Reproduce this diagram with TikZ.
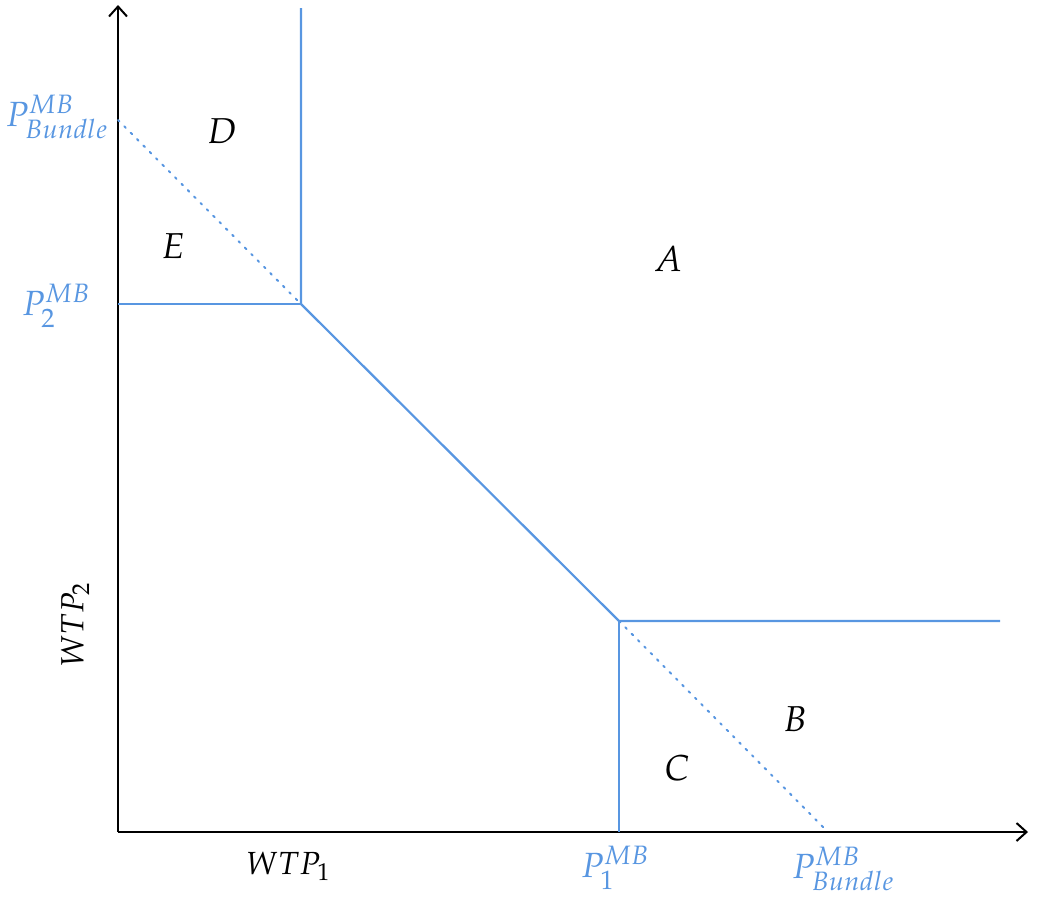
\documentclass[tikz,border=0pt]{standalone}
\usepackage{mathpazo}
\usetikzlibrary{arrows.meta}
\definecolor{mbblue}{RGB}{88,150,225}
\tikzset{
  axis/.style={line width=2pt, black, -{Straight Barb[length=10pt,width=18pt,line width=2pt]}},
  border/.style={line width=2.2pt, mbblue},
  guide/.style={line width=2pt, mbblue, dotted, dash pattern=on 2pt off 7pt, line cap=round},
  pricelab/.style={text=mbblue, font=\fontsize{35}{37}\selectfont, inner sep=0pt},
  region/.style={font=\fontsize{36}{38}\selectfont, inner sep=0pt},
  axlab/.style={font=\fontsize{32}{34}\selectfont, inner sep=0pt}
}
\begin{document}
\begin{tikzpicture}[x=1pt,y=-1pt]
\useasboundingbox (0,0) rectangle (1040,905);
% reference points
\coordinate (O) at (118,832);
\coordinate (ytop) at (118,5);
\coordinate (xend) at (1028,832);
\coordinate (K2) at (301,304);
\coordinate (K1) at (619,621);
\coordinate (top2) at (301,8);
\coordinate (left2) at (118,304);
\coordinate (right1) at (1000,621);
\coordinate (bot1) at (619,832);
\coordinate (bundY) at (118,120);
\coordinate (bundX) at (828,832);
% axes
\draw[axis] (O) -- (ytop);
\draw[axis] (O) -- (xend);
% purchase boundaries
\draw[border] (top2) -- (K2) -- (K1) -- (right1);
\draw[border] (left2) -- (K2);
\draw[border] (K1) -- (bot1);
% bundle price line
\draw[guide] (bundY) -- (K2);
\draw[guide] (K1) -- (bundX);
% price labels
\node[pricelab, anchor=east] (pby) at (108,117) {$P^{MB}_{Bundle}$};
\node[pricelab] (p2) at (56,306) {$P^{MB}_{2}$};
\node[pricelab] (p1) at (615,868) {$P^{MB}_{1}$};
\node[pricelab] (pbx) at (843,869) {$P^{MB}_{Bundle}$};
% axis labels
\node[axlab] (w1) at (288,866) {$WTP_1$};
\node[axlab, rotate=90] (w2) at (75,625) {$WTP_2$};
% regions
\node[region] (A) at (668,259) {$A$};
\node[region] (B) at (795,719) {$B$};
\node[region] (C) at (677,768) {$C$};
\node[region] (D) at (222,131) {$D$};
\node[region] (E) at (173,246) {$E$};
\end{tikzpicture}
\end{document}
